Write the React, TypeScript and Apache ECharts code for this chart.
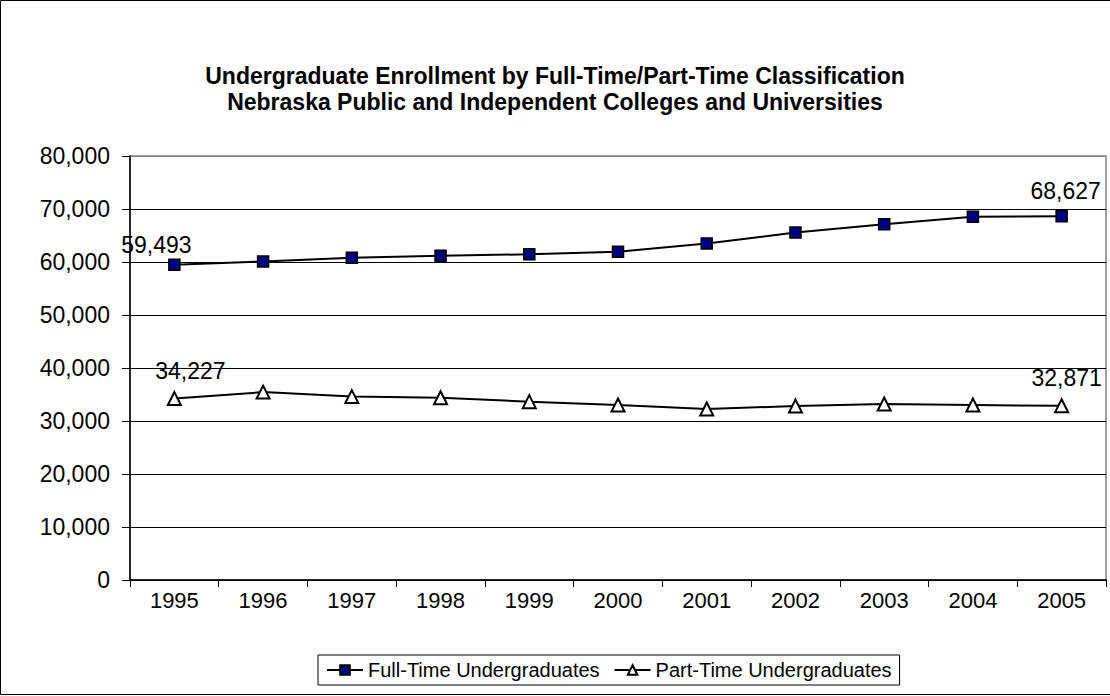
import React, { useEffect, useRef } from "react";
import * as echarts from "echarts";

const years = ["1995", "1996", "1997", "1998", "1999", "2000", "2001", "2002", "2003", "2004", "2005"];
const fullTime = [59493, 60100, 60800, 61200, 61450, 61950, 63500, 65550, 67100, 68550, 68627];
const partTime = [34227, 35450, 34600, 34400, 33650, 33020, 32260, 32830, 33200, 33020, 32871];
const titleLines = [
  "Undergraduate Enrollment by Full-Time/Part-Time Classification",
  "Nebraska Public and Independent Colleges and Universities",
];
const seriesNames = ["Full-Time Undergraduates", "Part-Time Undergraduates"];

const FONT = "'Liberation Sans', Arial, Helvetica, sans-serif";
const fmt = (v: number) => v.toLocaleString("en-US");

export default function App() {
  const ref = useRef<HTMLDivElement>(null);
  useEffect(() => {
    document.body.style.margin = "0";
    const chart = echarts.init(ref.current!, null, { renderer: "svg" });
    const labelStyle = (dx: number, dy: number) => ({
      show: true,
      position: "top",
      distance: 0,
      offset: [dx, dy],
      formatter: (p: any) => fmt(p.value),
      fontSize: 23,
      fontFamily: FONT,
      color: "#000",
    });
    const ftData = fullTime.map((v, i) => {
      if (i === 0) return { value: v, label: labelStyle(-18, -1.5) };
      if (i === fullTime.length - 1) return { value: v, label: labelStyle(4, -7.5) };
      return v;
    });
    const ptData = partTime.map((v, i) => {
      if (i === 0) return { value: v, label: labelStyle(16, -8.5) };
      if (i === partTime.length - 1) return { value: v, label: labelStyle(5, -9) };
      return v;
    });
    chart.setOption({
      animation: false,
      backgroundColor: "#fff",
      textStyle: { fontFamily: FONT },
      title: {
        text: titleLines.join("\n"),
        left: "center",
        top: 58,
        textStyle: { fontSize: 23, fontWeight: "bold", color: "#000", lineHeight: 26, fontFamily: FONT },
      },
      graphic: [
        {
          type: "rect",
          shape: { x: 0.5, y: 0.5, width: 1120, height: 694 },
          style: { fill: "none", stroke: "#000", lineWidth: 1 },
          silent: true,
        },
      ],
      legend: {
        left: 318,
        top: 655,
        orient: "horizontal",
        itemWidth: 36,
        itemHeight: 12,
        itemGap: 14,
        padding: [5, 8, 5, 8],
        borderColor: "#000",
        borderWidth: 1,
        textStyle: { fontSize: 20, color: "#000", fontFamily: FONT },
        data: seriesNames,
      },
      grid: {
        left: 130,
        right: 4,
        top: 156,
        bottom: 116,
        show: true,
        borderColor: "#808080",
        borderWidth: 1.5,
        containLabel: false,
      },
      xAxis: {
        type: "category",
        data: years,
        boundaryGap: true,
        axisLine: { show: true, lineStyle: { color: "#000", width: 1.5 } },
        axisTick: { show: true, length: 7, interval: 0, lineStyle: { color: "#000", width: 1 } },
        axisLabel: { fontSize: 22, color: "#000", margin: 9, fontFamily: FONT, interval: 0 },
        splitLine: { show: false },
      },
      yAxis: {
        type: "value",
        min: 0,
        max: 80000,
        interval: 10000,
        axisLine: { show: true, lineStyle: { color: "#000", width: 1.5 } },
        axisTick: { show: true, length: 8, lineStyle: { color: "#000", width: 1 } },
        axisLabel: { fontSize: 23, color: "#000", margin: 20, fontFamily: FONT, formatter: (v: number) => fmt(v) },
        splitLine: {
          show: true,
          lineStyle: {
            color: ["#000", "#000", "#000", "#000", "#000", "#000", "#000", "#000", "#808080"],
            width: 1,
          },
        },
      },
      series: [
        {
          name: seriesNames[0],
          type: "line",
          data: ftData,
          symbol: "rect",
          symbolSize: 11,
          lineStyle: { color: "#000", width: 2 },
          itemStyle: { color: "#000080", borderColor: "#000", borderWidth: 1.5 },
          label: { show: false },
          z: 3,
        },
        {
          name: seriesNames[1],
          type: "line",
          data: ptData,
          symbol: "triangle",
          symbolSize: 13,
          lineStyle: { color: "#000", width: 2 },
          itemStyle: { color: "#fff", borderColor: "#000", borderWidth: 2 },
          label: { show: false },
          z: 3,
        },
      ],
    });
    return () => chart.dispose();
  }, []);
  return <div ref={ref} style={{ position: "absolute", left: 0, top: 0, width: 1110, height: 696 }} />;
}
